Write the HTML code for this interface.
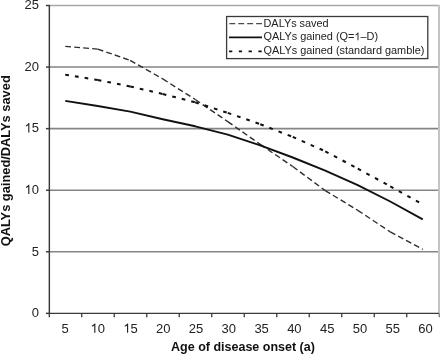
<!DOCTYPE html>
<html><head><meta charset="utf-8"><style>
html,body{margin:0;padding:0;background:#fff;}
svg{display:block;will-change:transform;}
text{-webkit-font-smoothing:antialiased;}
.one{fill:transparent;}
.t{font-family:"Liberation Sans",sans-serif;font-size:13px;fill:#222;}
.l{font-family:"Liberation Sans",sans-serif;font-size:10.9px;fill:#222;}
.b{font-family:"Liberation Sans",sans-serif;font-size:12.5px;font-weight:bold;fill:#111;}
</style></head><body>
<svg width="440" height="355" viewBox="0 0 440 355">
<rect width="440" height="355" fill="#fff"/>
<line x1="49" y1="251.78000000000003" x2="438" y2="251.78000000000003" stroke="#858585" stroke-width="1.6"/><line x1="49" y1="190.21000000000004" x2="438" y2="190.21000000000004" stroke="#858585" stroke-width="1.6"/><line x1="49" y1="128.64000000000001" x2="438" y2="128.64000000000001" stroke="#858585" stroke-width="1.6"/><line x1="49" y1="67.07000000000002" x2="438" y2="67.07000000000002" stroke="#858585" stroke-width="1.6"/><line x1="49" y1="5.5" x2="438" y2="5.5" stroke="#a8a8a8" stroke-width="1.6"/><line x1="439" y1="4.7" x2="439" y2="313.35" stroke="#c4c4c4" stroke-width="2"/><line x1="49.35" y1="5.0" x2="49.35" y2="314.05" stroke="#3a3a3a" stroke-width="1.45"/><line x1="45.95" y1="313.35" x2="49.35" y2="313.35" stroke="#3a3a3a" stroke-width="1.45"/><line x1="45.95" y1="251.78000000000003" x2="49.35" y2="251.78000000000003" stroke="#3a3a3a" stroke-width="1.45"/><line x1="45.95" y1="190.21000000000004" x2="49.35" y2="190.21000000000004" stroke="#3a3a3a" stroke-width="1.45"/><line x1="45.95" y1="128.64000000000001" x2="49.35" y2="128.64000000000001" stroke="#3a3a3a" stroke-width="1.45"/><line x1="45.95" y1="67.07000000000002" x2="49.35" y2="67.07000000000002" stroke="#3a3a3a" stroke-width="1.45"/><line x1="45.95" y1="5.5" x2="49.35" y2="5.5" stroke="#3a3a3a" stroke-width="1.45"/><line x1="49.35" y1="313.35" x2="439" y2="313.35" stroke="#3a3a3a" stroke-width="1.45"/><line x1="49.3" y1="313.35" x2="49.3" y2="317.15000000000003" stroke="#3a3a3a" stroke-width="1.3"/><line x1="81.75" y1="313.35" x2="81.75" y2="317.15000000000003" stroke="#3a3a3a" stroke-width="1.3"/><line x1="114.25" y1="313.35" x2="114.25" y2="317.15000000000003" stroke="#3a3a3a" stroke-width="1.3"/><line x1="146.75" y1="313.35" x2="146.75" y2="317.15000000000003" stroke="#3a3a3a" stroke-width="1.3"/><line x1="179.25" y1="313.35" x2="179.25" y2="317.15000000000003" stroke="#3a3a3a" stroke-width="1.3"/><line x1="211.75" y1="313.35" x2="211.75" y2="317.15000000000003" stroke="#3a3a3a" stroke-width="1.3"/><line x1="244.25" y1="313.35" x2="244.25" y2="317.15000000000003" stroke="#3a3a3a" stroke-width="1.3"/><line x1="276.75" y1="313.35" x2="276.75" y2="317.15000000000003" stroke="#3a3a3a" stroke-width="1.3"/><line x1="309.25" y1="313.35" x2="309.25" y2="317.15000000000003" stroke="#3a3a3a" stroke-width="1.3"/><line x1="341.75" y1="313.35" x2="341.75" y2="317.15000000000003" stroke="#3a3a3a" stroke-width="1.3"/><line x1="374.25" y1="313.35" x2="374.25" y2="317.15000000000003" stroke="#3a3a3a" stroke-width="1.3"/><line x1="406.75" y1="313.35" x2="406.75" y2="317.15000000000003" stroke="#3a3a3a" stroke-width="1.3"/><line x1="439.25" y1="313.35" x2="439.25" y2="317.15000000000003" stroke="#7a7a7a" stroke-width="1.3"/><line x1="65.25" y1="46.4" x2="97.75" y2="49.1" stroke="#2e2e2e" stroke-width="1.4" stroke-dasharray="5.8 3.2"/><line x1="97.75" y1="49.1" x2="130.25" y2="60.4" stroke="#2e2e2e" stroke-width="1.4" stroke-dasharray="5.8 3.2"/><line x1="130.25" y1="60.4" x2="162.75" y2="78.9" stroke="#2e2e2e" stroke-width="1.4" stroke-dasharray="5.8 3.2"/><line x1="162.75" y1="78.9" x2="195.25" y2="99.5" stroke="#2e2e2e" stroke-width="1.4" stroke-dasharray="5.8 3.2"/><line x1="195.25" y1="99.5" x2="227.75" y2="121.6" stroke="#2e2e2e" stroke-width="1.4" stroke-dasharray="5.8 3.2"/><line x1="227.75" y1="121.6" x2="260.25" y2="144.4" stroke="#2e2e2e" stroke-width="1.4" stroke-dasharray="5.8 3.2"/><line x1="260.25" y1="144.4" x2="292.75" y2="166.5" stroke="#2e2e2e" stroke-width="1.4" stroke-dasharray="5.8 3.2"/><line x1="292.75" y1="166.5" x2="325.25" y2="190.6" stroke="#2e2e2e" stroke-width="1.4" stroke-dasharray="5.8 3.2"/><line x1="325.25" y1="190.6" x2="357.75" y2="210.3" stroke="#2e2e2e" stroke-width="1.4" stroke-dasharray="5.8 3.2"/><line x1="357.75" y1="210.3" x2="390.25" y2="231.9" stroke="#2e2e2e" stroke-width="1.4" stroke-dasharray="5.8 3.2"/><line x1="390.25" y1="231.9" x2="422.75" y2="249.3" stroke="#2e2e2e" stroke-width="1.4" stroke-dasharray="5.8 3.2"/><line x1="65.25" y1="74.7" x2="97.75" y2="80" stroke="#111" stroke-width="2.05" stroke-dasharray="3.7 6.1"/><line x1="97.75" y1="80" x2="130.25" y2="86.4" stroke="#111" stroke-width="2.05" stroke-dasharray="3.7 6.1"/><line x1="130.25" y1="86.4" x2="162.75" y2="94" stroke="#111" stroke-width="2.05" stroke-dasharray="3.7 6.1"/><line x1="162.75" y1="94" x2="195.25" y2="102.3" stroke="#111" stroke-width="2.05" stroke-dasharray="3.7 6.1"/><line x1="195.25" y1="102.3" x2="227.75" y2="112.9" stroke="#111" stroke-width="2.05" stroke-dasharray="3.7 6.1"/><line x1="227.75" y1="112.9" x2="260.25" y2="124.2" stroke="#111" stroke-width="2.05" stroke-dasharray="3.7 6.1"/><line x1="260.25" y1="124.2" x2="292.75" y2="136.9" stroke="#111" stroke-width="2.05" stroke-dasharray="3.7 6.1"/><line x1="292.75" y1="136.9" x2="325.25" y2="151.3" stroke="#111" stroke-width="2.05" stroke-dasharray="3.7 6.1"/><line x1="325.25" y1="151.3" x2="357.75" y2="168.6" stroke="#111" stroke-width="2.05" stroke-dasharray="3.7 6.1"/><line x1="357.75" y1="168.6" x2="390.25" y2="186.3" stroke="#111" stroke-width="2.05" stroke-dasharray="3.7 6.1"/><line x1="390.25" y1="186.3" x2="422.75" y2="204.5" stroke="#111" stroke-width="2.05" stroke-dasharray="3.7 6.1"/><polyline points="65.25,100.9 97.75,106 130.25,111.6 162.75,119.2 195.25,126.3 227.75,134.6 260.25,145.3 292.75,157.5 325.25,170.7 357.75,185.2 390.25,201.5 422.75,219.4" fill="none" stroke="#111" stroke-width="1.9" stroke-linejoin="round"/>

<rect x="226.6" y="16.5" width="201.2" height="42.1" fill="#fff" stroke="#3a3a3a" stroke-width="1.3"/>
<line x1="229.4" y1="23.6" x2="262" y2="23.6" stroke="#4a4a4a" stroke-width="1.35" stroke-dasharray="5.9 3"/>
<line x1="229" y1="37.3" x2="262" y2="37.3" stroke="#111" stroke-width="1.8"/>
<line x1="229" y1="51.4" x2="262" y2="51.4" stroke="#111" stroke-width="1.85" stroke-dasharray="3.3 6.5"/>
<text x="263.5" y="26.8" class="l">DALYs saved</text>
<text x="263.5" y="40.35" class="l">QALYs gained (Q=<tspan class="one">1</tspan>&#8211;D)</text>
<text x="263.5" y="54.05" class="l">QALYs gained (standard gamble)</text>

<text x="39" y="317.1" text-anchor="end" class="t">0</text><text x="39" y="255.53000000000003" text-anchor="end" class="t">5</text><text x="39" y="193.96000000000004" text-anchor="end" class="t"><tspan class="one">1</tspan>0</text><text x="39" y="132.39000000000001" text-anchor="end" class="t"><tspan class="one">1</tspan>5</text><text x="39" y="70.82000000000002" text-anchor="end" class="t">20</text><text x="39" y="9.25" text-anchor="end" class="t">25</text>
<text x="65.0" y="332.7" text-anchor="middle" class="t">5</text><text x="97.77000000000001" y="332.7" text-anchor="middle" class="t"><tspan class="one">1</tspan>0</text><text x="130.54000000000002" y="332.7" text-anchor="middle" class="t"><tspan class="one">1</tspan>5</text><text x="163.31" y="332.7" text-anchor="middle" class="t">20</text><text x="196.08" y="332.7" text-anchor="middle" class="t">25</text><text x="228.85000000000002" y="332.7" text-anchor="middle" class="t">30</text><text x="261.62" y="332.7" text-anchor="middle" class="t">35</text><text x="294.39" y="332.7" text-anchor="middle" class="t">40</text><text x="327.16" y="332.7" text-anchor="middle" class="t">45</text><text x="359.93" y="332.7" text-anchor="middle" class="t">50</text><text x="392.70000000000005" y="332.7" text-anchor="middle" class="t">55</text><text x="425.47" y="332.7" text-anchor="middle" class="t">60</text>

<text x="243" y="351" text-anchor="middle" class="b">Age of disease onset (a)</text>
<text transform="translate(9.8,160.8) rotate(-90)" text-anchor="middle" class="b" style="font-size:12.85px">QALYs gained/DALYs saved</text>

<path d="M763,0H583V1147Q518,1085 412,1023T222,930V1104Q373,1175 486,1276T646,1466H763V0Z" transform="translate(354.406,40.350) scale(0.005322,-0.005322)" fill="#222"/><path d="M763,0H583V1147Q518,1085 412,1023T222,930V1104Q373,1175 486,1276T646,1466H763V0Z" transform="translate(24.531,193.960) scale(0.006348,-0.006348)" fill="#222"/><path d="M763,0H583V1147Q518,1085 412,1023T222,930V1104Q373,1175 486,1276T646,1466H763V0Z" transform="translate(24.531,132.390) scale(0.006348,-0.006348)" fill="#222"/><path d="M763,0H583V1147Q518,1085 412,1023T222,930V1104Q373,1175 486,1276T646,1466H763V0Z" transform="translate(90.536,332.700) scale(0.006348,-0.006348)" fill="#222"/><path d="M763,0H583V1147Q518,1085 412,1023T222,930V1104Q373,1175 486,1276T646,1466H763V0Z" transform="translate(123.306,332.700) scale(0.006348,-0.006348)" fill="#222"/>
</svg>
</body></html>
